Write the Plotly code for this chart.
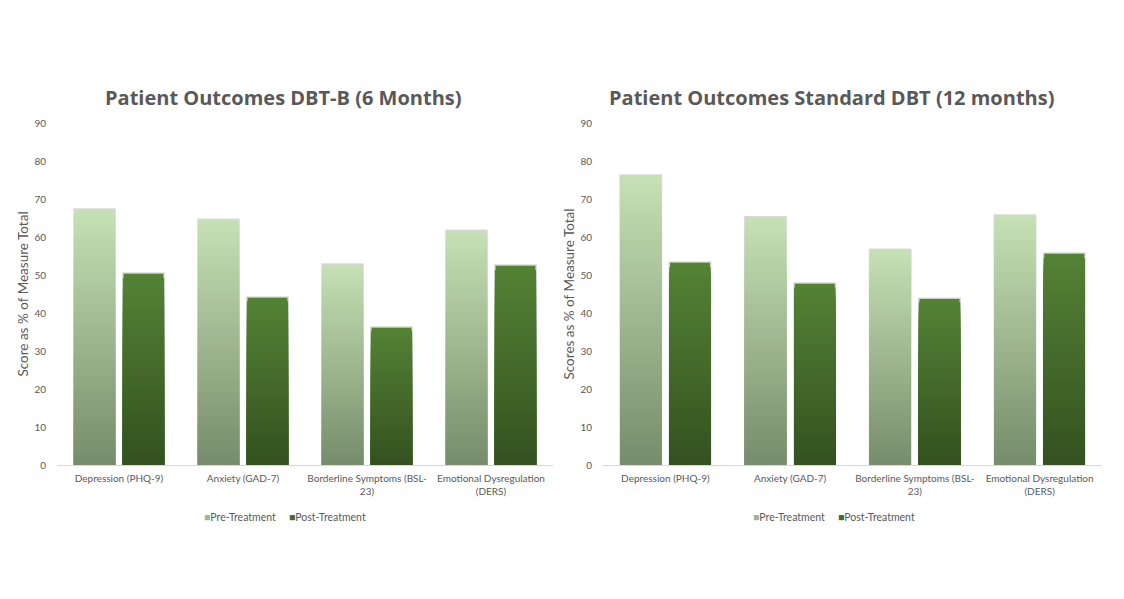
import plotly.graph_objects as go
from plotly.subplots import make_subplots

CATEGORIES = [
    "Depression (PHQ-9)",
    "Anxiety (GAD-7)",
    "Borderline Symptoms (BSL-<br>23)",
    "Emotional Dysregulation<br>(DERS)",
]

# DBT-B, 6 months
DBTB_PRE = [67.4, 64.7, 52.9, 61.8]
DBTB_POST = [50.5, 44.2, 36.3, 52.6]

# Standard DBT, 12 months
STD_PRE = [76.3, 65.3, 56.8, 65.8]
STD_POST = [53.4, 47.9, 43.9, 55.8]

Y_TICKS = [0, 10, 20, 30, 40, 50, 60, 70, 80, 90]

TITLES = ["Patient Outcomes DBT-B (6 Months)", "Patient Outcomes Standard DBT (12 months)"]
Y_TITLES = ["Score as % of Measure Total", "Scores as % of Measure Total"]
SERIES = ["Pre-Treatment", "Post-Treatment"]

# gradient end points (top, bottom)
PRE_GRAD = ((197, 224, 180), (120, 141, 108))
POST_GRAD = ((84, 130, 53), (52, 82, 32))

N_STEPS = 40
TEXT = "#595959"
FONT = "Lato"

# page body has an 8px margin, so the figure is a bit smaller than the window
W, H, OFF = 1116, 591, 8


def fx(px):
    return (px - OFF) / W


def fy(px):
    return 1 - (px - OFF) / H


def blend(grad, t):
    a, b = grad
    c = [round(a[i] + (b[i] - a[i]) * t) for i in range(3)]
    return f"rgb({c[0]},{c[1]},{c[2]})"


def add_gradient_bars(fig, values, name, grad, group, col):
    # stack of overlapping bars, shorter ones on top, so each bar
    # gets its own vertical gradient (light on top, dark at bottom)
    for k in range(N_STEPS):
        frac = (N_STEPS - k) / N_STEPS
        fig.add_trace(go.Bar(
            x=CATEGORIES,
            y=[v * frac for v in values],
            name=name,
            offsetgroup=group,
            showlegend=False,
            marker=dict(
                color=blend(grad, k / (N_STEPS - 1)),
                line=dict(width=1.5 if k == 0 else 0, color="rgba(215,215,215,0.9)"),
            ),
            hoverinfo="skip" if k else None,
            customdata=values,
            hovertemplate=name + " %{x}: %{customdata}<extra></extra>",
        ), row=1, col=col)


fig = make_subplots(rows=1, cols=2, horizontal_spacing=0.05)

add_gradient_bars(fig, DBTB_PRE, SERIES[0], PRE_GRAD, "pre", 1)
add_gradient_bars(fig, DBTB_POST, SERIES[1], POST_GRAD, "post", 1)
add_gradient_bars(fig, STD_PRE, SERIES[0], PRE_GRAD, "pre", 2)
add_gradient_bars(fig, STD_POST, SERIES[1], POST_GRAD, "post", 2)

axis_common = dict(
    showgrid=False, zeroline=False, automargin=False,
    tickfont=dict(size=10, color=TEXT, family=FONT),
)

fig.update_xaxes(
    **axis_common,
    showline=True, linecolor="#d9d9d9", linewidth=1,
    ticks="", ticklabelstandoff=4, tickangle=0,
)
fig.update_xaxes(domain=[fx(57), fx(553)], row=1, col=1)
fig.update_xaxes(domain=[fx(603), fx(1102)], row=1, col=2)

for col in (1, 2):
    fig.update_yaxes(
        **axis_common,
        range=[0, 90], tickvals=Y_TICKS, showline=False, ticks="",
        ticklabelstandoff=10,
        domain=[fy(465), fy(123)],
        title=dict(text=Y_TITLES[col - 1], font=dict(size=13.5, color=TEXT, family=FONT),
                   standoff=2),
        row=1, col=col,
    )

title_x = [283, 831]
legend_x = [285, 834]
gap = "\u2003\u2002"

annotations = []
for i in range(2):
    annotations.append(dict(
        text=f"<b>{TITLES[i]}</b>", x=fx(title_x[i]), y=fy(97), xref="paper", yref="paper",
        xanchor="center", yanchor="middle", showarrow=False,
        font=dict(size=20, color=TEXT, family="Open Sans"),
    ))
    # legend drawn as text with coloured squares
    legend_text = (
        f"<span style='color:{blend(PRE_GRAD, 0.5)}'>■</span>{SERIES[0]}{gap}"
        f"<span style='color:{blend(POST_GRAD, 0.5)}'>■</span>{SERIES[1]}"
    )
    annotations.append(dict(
        text=legend_text, x=fx(legend_x[i]), y=fy(517), xref="paper", yref="paper",
        xanchor="center", yanchor="middle", showarrow=False,
        font=dict(size=10.5, color=TEXT, family=FONT),
    ))

fig.update_layout(
    width=W, height=H,
    barmode="group", bargap=0.21, bargroupgap=0.16,
    plot_bgcolor="white", paper_bgcolor="white",
    margin=dict(l=0, r=0, t=0, b=0),
    showlegend=False,
    annotations=annotations,
)

fig.write_html("out.html")
